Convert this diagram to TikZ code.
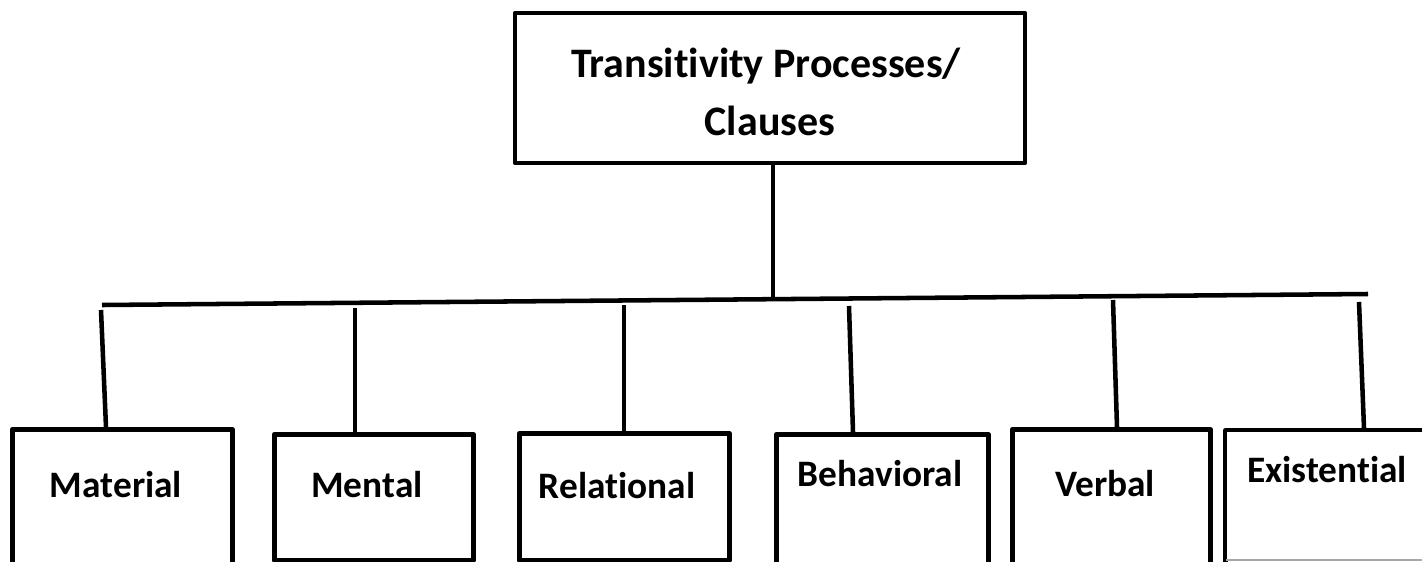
\documentclass[tikz,border=0pt]{standalone}
\usepackage{fontspec}
\setmainfont{Carlito}[Ligatures=NoCommon]
\begin{document}
\begin{tikzpicture}[x=0.75pt,y=-0.75pt,
  boxline/.style={draw=black,line width=3.4pt,line join=round},
  conn/.style={draw=black,line width=3.4pt},
  lab/.style={font=\fontsize{28}{32}\selectfont\bfseries,anchor=base,inner sep=0pt},
  toplab/.style={font=\fontsize{31.5}{36}\selectfont\bfseries,anchor=base,inner sep=0pt}]
\useasboundingbox (0,0) rectangle (1422,561);
\clip (0,0) rectangle (1422,561);
% top box
\node[boxline,rectangle,minimum width=510*0.75pt,minimum height=150*0.75pt,inner sep=0pt] (top) at (770,88) {};
\node[toplab] (t1) at (766,77) {Transitivity Processes/};
\node[toplab] (t2) at (770,135) {Clauses};
% bar
\coordinate (barL) at (102,305);
\coordinate (barR) at (1368,294);
\coordinate (barM) at (773,300);
\draw[conn] (barL) -- (barR);
\draw[conn] (top.south -| barM) -- (barM);
% bottom boxes
\node[boxline,rectangle,minimum width=220*0.75pt,minimum height=200*0.75pt,inner sep=0pt,anchor=north west] (b1) at (10,427) {};
\node[boxline,rectangle,minimum width=199*0.75pt,minimum height=126*0.75pt,inner sep=0pt,anchor=north west] (b2) at (272,432) {};
\node[boxline,rectangle,minimum width=210*0.75pt,minimum height=127*0.75pt,inner sep=0pt,anchor=north west] (b3) at (517,431) {};
\node[boxline,rectangle,minimum width=212*0.75pt,minimum height=200*0.75pt,inner sep=0pt,anchor=north west] (b4) at (774,432) {};
\node[boxline,rectangle,minimum width=198*0.75pt,minimum height=200*0.75pt,inner sep=0pt,anchor=north west] (b5) at (1010,427) {};
\node[boxline,rectangle,minimum width=260*0.75pt,minimum height=200*0.75pt,inner sep=0pt,anchor=north west] (b6) at (1223,428) {};
\fill[white] (1227,432) rectangle (1422,561);
\draw[gray!70,line width=0.8pt] (1226,560) -- (1422,560);
% labels
\node[lab] (l1) at (116,497) {Material};
\node[lab] (l2) at (367,497) {Mental};
\node[lab] (l3) at (617,498) {Relational};
\node[lab] (l4) at (880,486) {Behavioral};
\node[lab] (l5) at (1105,496) {Verbal};
\node[lab] (l6) at (1327,482) {Existential};
% drops
\coordinate (d1t) at (101,310); \coordinate (d1b) at (106,427);
\coordinate (d2t) at (355,308); \coordinate (d2b) at (355,432);
\coordinate (d3t) at (624,305); \coordinate (d3b) at (624,431);
\coordinate (d4t) at (849,306); \coordinate (d4b) at (853,432);
\coordinate (d5t) at (1113,300); \coordinate (d5b) at (1117,427);
\coordinate (d6t) at (1359,302); \coordinate (d6b) at (1364,428);
\foreach \i in {1,...,6} {\draw[conn] (d\i t) -- (d\i b);}
\end{tikzpicture}
\end{document}
